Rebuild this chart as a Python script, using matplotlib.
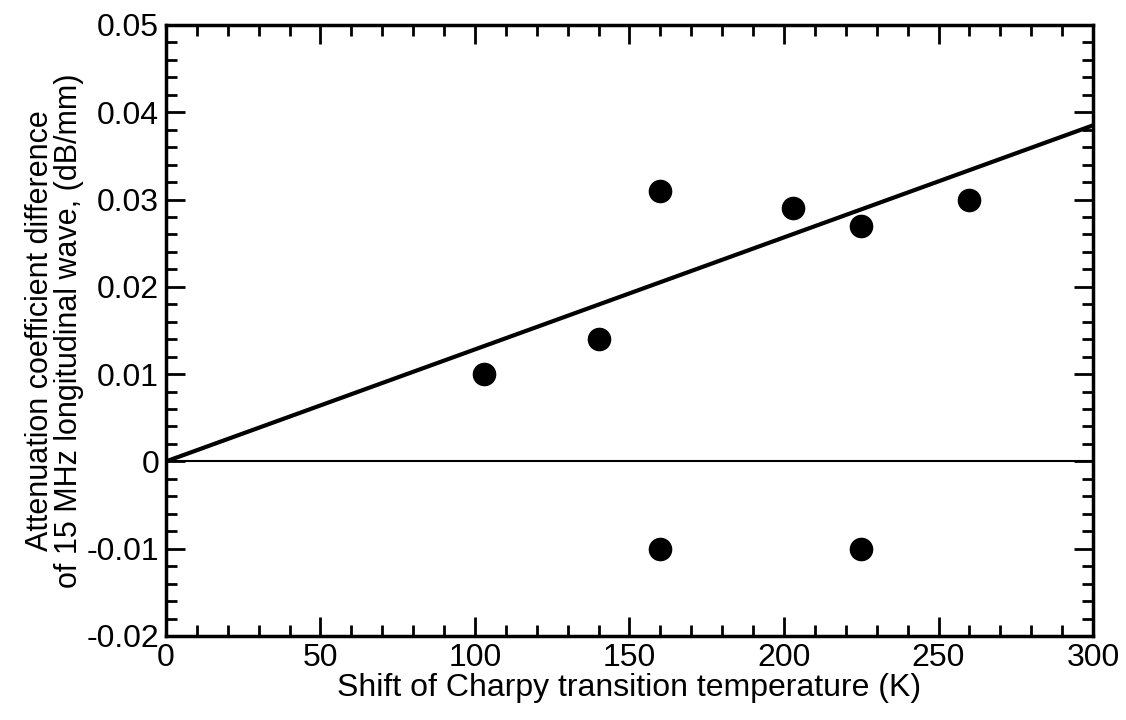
import matplotlib
matplotlib.use('Agg')
import matplotlib.pyplot as plt
from matplotlib.ticker import MultipleLocator

plt.rcParams['font.family'] = ['Liberation Sans', 'DejaVu Sans']

# measured points
shift_K = [103, 140, 160, 160, 203, 225, 225, 260]
atten_diff = [0.010, 0.014, 0.031, -0.010, 0.029, 0.027, -0.010, 0.030]

# fitted line through origin
fit_x = [0, 300]
fit_y = [0.0, 0.0385]

fig = plt.figure(figsize=(11.26, 7.2), dpi=100)
ax = fig.add_axes([0.1474, 0.1167, 0.8233, 0.8486])

ax.plot(fit_x, fit_y, color='black', lw=3)
ax.axhline(0, color='black', lw=1.5)
ax.plot(shift_K, atten_diff, 'o', color='black', markersize=16)

ax.set_xlim(0, 300)
ax.set_ylim(-0.02, 0.05)
ax.xaxis.set_major_locator(MultipleLocator(50))
ax.xaxis.set_minor_locator(MultipleLocator(10))
ax.yaxis.set_minor_locator(MultipleLocator(0.002))
ax.set_yticks([-0.02, -0.01, 0, 0.01, 0.02, 0.03, 0.04, 0.05])
ax.set_yticklabels(['-0.02', '-0.01', '0', '0.01', '0.02', '0.03', '0.04', '0.05'])

ax.tick_params(which='both', direction='in', top=True, right=True, labelsize=23, width=2)
ax.tick_params(which='major', length=14, pad=5)
ax.tick_params(which='minor', length=8)
for s in ax.spines.values():
    s.set_linewidth(2.5)

ax.set_xlabel('Shift of Charpy transition temperature (K)', fontsize=23, labelpad=0)
ax.set_ylabel('Attenuation coefficient difference\nof 15 MHz longitudinal wave, (dB/mm)',
              fontsize=22, labelpad=2, linespacing=0.95)

fig.savefig('out.png', dpi=100)
